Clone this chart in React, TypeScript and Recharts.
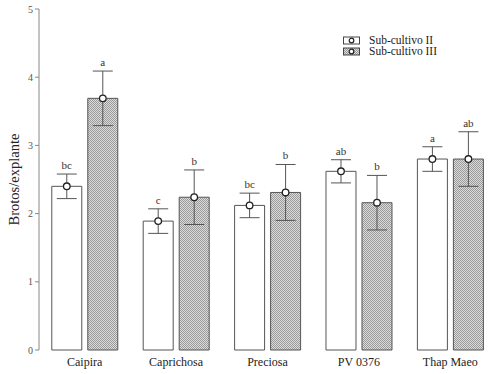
import React from 'react';
import { BarChart, Bar, XAxis, YAxis, ErrorBar, LabelList } from 'recharts';

const categories = ['Caipira', 'Caprichosa', 'Preciosa', 'PV 0376', 'Thap Maeo'];
const sub2 = [2.4, 1.89, 2.12, 2.62, 2.8];
const sub2Err = [0.18, 0.18, 0.18, 0.17, 0.18];
const sub3 = [3.69, 2.24, 2.31, 2.16, 2.8];
const sub3Err = [0.4, 0.4, 0.41, 0.4, 0.4];
const sub2Letters = ['bc', 'c', 'bc', 'ab', 'a'];
const sub3Letters = ['a', 'b', 'b', 'b', 'ab'];
const yTicks = [0, 1, 2, 3, 4, 5];
const seriesNames = ['Sub-cultivo II', 'Sub-cultivo III'];

const data = categories.map((c, i) => ({
  name: c,
  s2: sub2[i],
  e2: sub2Err[i],
  s3: sub3[i],
  e3: sub3Err[i],
}));

const FONT = '"Liberation Serif", "Times New Roman", serif';
const STROKE = '#555';

const circleContent = (props: any) => {
  const { x, y, width } = props;
  return <circle cx={x + width / 2} cy={y} r={3.3} fill="#fff" stroke="#222" strokeWidth={1.3} />;
};

const makeLetterContent = (errs: number[], letters: string[]) => (props: any) => {
  const { x, y, width, height, value, index } = props;
  const ppu = height / value;
  const top = y - errs[index] * ppu;
  return (
    <text x={x + width / 2} y={top - 5} textAnchor="middle" fontFamily={FONT} fontSize={11} fill="#333">
      {letters[index]}
    </text>
  );
};

const XTick = (props: any) => {
  const { x, y, payload } = props;
  return (
    <text x={x} y={y + 8} textAnchor="middle" fontFamily={FONT} fontSize={12} fill="#222">
      {payload.value}
    </text>
  );
};

const YLabel = (props: any) => {
  const { viewBox } = props;
  const cy = viewBox.y + viewBox.height / 2;
  return (
    <text
      x={14}
      y={cy}
      transform={`rotate(-90, 14, ${cy})`}
      textAnchor="middle"
      dominantBaseline="central"
      fontFamily={FONT}
      fontSize={14.5}
      fill="#222"
    >
      Brotos/explante
    </text>
  );
};

const HatchDefs = ({ id }: { id: string }) => (
  <pattern id={id} patternUnits="userSpaceOnUse" width={2} height={2}>
    <rect x={0} y={0} width={2} height={2} fill="#dcdcdc" />
    <rect x={0} y={0} width={1} height={1} fill="#999999" />
    <rect x={1} y={1} width={1} height={1} fill="#999999" />
  </pattern>
);

const LegendBox = () => (
  <div
    style={{
      position: 'absolute',
      left: 343,
      top: 35,
      fontFamily: FONT,
      fontSize: 11.5,
      color: '#222',
    }}
  >
    {seriesNames.map((n, i) => (
      <div key={n} style={{ display: 'flex', alignItems: 'center', height: 11, lineHeight: '11px' }}>
        <svg width={18} height={9} style={{ marginRight: 8 }}>
          <defs>
            <HatchDefs id={`lhatch${i}`} />
          </defs>
          <rect x={0.5} y={1} width={16} height={7} fill={i === 0 ? '#fff' : `url(#lhatch${i})`} stroke="#444" />
          <circle cx={8.5} cy={4.5} r={2.3} fill="#fff" stroke="#222" strokeWidth={1.2} />
        </svg>
        <span>{n}</span>
      </div>
    ))}
  </div>
);

export default function App() {
  return (
    <div style={{ position: 'absolute', left: 0, top: 0, width: 500, height: 374, background: '#fff' }}>
      <BarChart
        width={500}
        height={374}
        data={data}
        margin={{ top: 9, right: 4, bottom: 0, left: 0 }}
        barCategoryGap="14%"
        barGap={6}
      >
        <defs>
          <HatchDefs id="hatch" />
        </defs>
        <XAxis dataKey="name" axisLine={false} tickLine={false} height={24} tick={<XTick />} interval={0} />
        <YAxis
          domain={[0, 5]}
          ticks={yTicks}
          width={39}
          axisLine={{ stroke: '#888' }}
          tickLine={{ stroke: '#888' }}
          tickSize={4}
          tick={{ fontFamily: FONT, fontSize: 10, fill: '#555' }}
          label={<YLabel />}
        />
        <Bar dataKey="s2" name={seriesNames[0]} fill="#fff" stroke={STROKE} strokeWidth={1} isAnimationActive={false}>
          <ErrorBar dataKey="e2" width={10} stroke="#555" strokeWidth={1} />
          <LabelList dataKey="s2" content={circleContent} />
          <LabelList dataKey="s2" content={makeLetterContent(sub2Err, sub2Letters)} />
        </Bar>
        <Bar dataKey="s3" name={seriesNames[1]} fill="url(#hatch)" stroke={STROKE} strokeWidth={1} isAnimationActive={false}>
          <ErrorBar dataKey="e3" width={10} stroke="#555" strokeWidth={1} />
          <LabelList dataKey="s3" content={circleContent} />
          <LabelList dataKey="s3" content={makeLetterContent(sub3Err, sub3Letters)} />
        </Bar>
      </BarChart>
      <LegendBox />
    </div>
  );
}
